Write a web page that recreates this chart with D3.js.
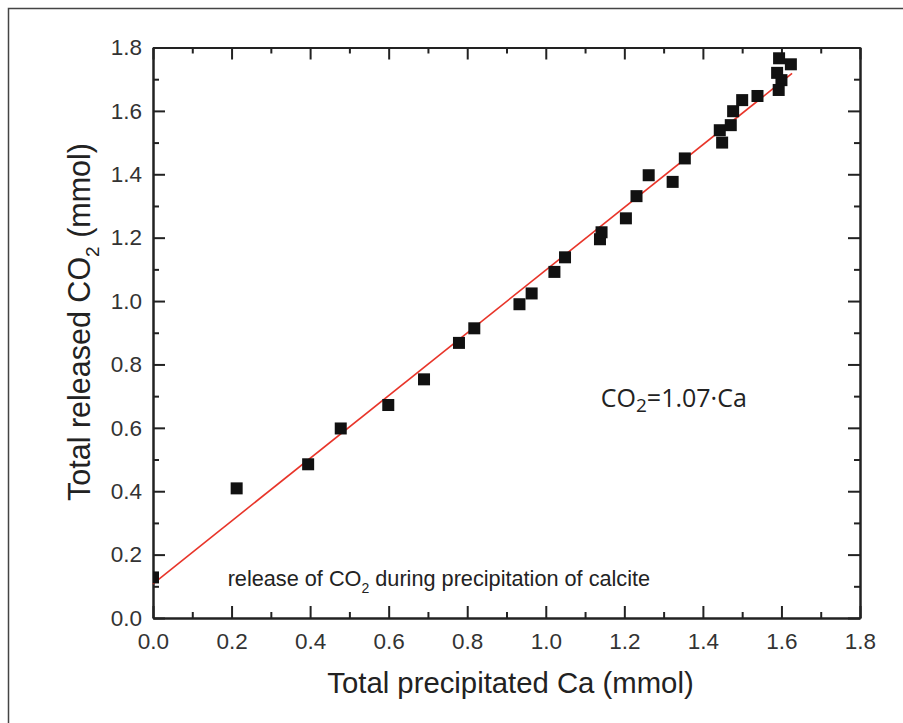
<!DOCTYPE html>
<meta charset="utf-8">
<style>

  body {
    margin: 0;
    background: #fff;
  }

  svg {
    font-family: "Liberation Sans", Arial, sans-serif;
  }

  .axis path,
  .axis line {
    fill: none;
    stroke: #222;
    stroke-width: 2px;
  }

  .axis text {
    font-size: 22.5px;
    fill: #333;
  }

  .dot {
    fill: #111;
  }

  .fit {
    fill: none;
    stroke: #e8352a;
    stroke-width: 1.6px;
  }

</style>
<body>
<script src="https://cdn.jsdelivr.net/npm/d3@7"></script>
<script>

  // Measured points: precipitated Ca vs released CO2 (mmol).
  var caValues = [0.0, 0.213, 0.395, 0.478, 0.599, 0.690, 0.779, 0.818, 0.933, 0.964,
    1.022, 1.049, 1.138, 1.142, 1.204, 1.231, 1.262, 1.323, 1.354, 1.443,
    1.449, 1.471, 1.477, 1.500, 1.539, 1.589, 1.594, 1.600, 1.593, 1.624];
  var co2Values = [0.128, 0.409, 0.485, 0.598, 0.672, 0.753, 0.868, 0.914, 0.990, 1.024,
    1.092, 1.138, 1.195, 1.217, 1.261, 1.331, 1.397, 1.376, 1.450, 1.539,
    1.500, 1.555, 1.599, 1.634, 1.647, 1.720, 1.766, 1.697, 1.666, 1.747];

  // Red fit line end points.
  var fitCa = [0.0, 1.627];
  var fitCo2 = [0.108, 1.718];

  var xTicks = [0.0, 0.2, 0.4, 0.6, 0.8, 1.0, 1.2, 1.4, 1.6, 1.8];
  var yTicks = [0.0, 0.2, 0.4, 0.6, 0.8, 1.0, 1.2, 1.4, 1.6, 1.8];
  var minorTicks = [0.1, 0.3, 0.5, 0.7, 0.9, 1.1, 1.3, 1.5, 1.7];

  var margin = {top: 47.5, right: 43, bottom: 105, left: 153};
  var width = 903 - margin.left - margin.right;
  var height = 723 - margin.top - margin.bottom;

  var x = d3.scaleLinear()
    .domain([0, 1.8])
    .range([0, width]);

  var y = d3.scaleLinear()
    .domain([0, 1.8])
    .range([height, 0]);

  var root = d3.select("body").append("svg")
    .attr("width", 903)
    .attr("height", 723);

  // Outer picture border.
  root.append("rect")
    .attr("x", 8.5)
    .attr("y", 8.5)
    .attr("width", 1000)
    .attr("height", 1000)
    .attr("fill", "none")
    .attr("stroke", "#444")
    .attr("stroke-width", 1.5);

  var svg = root.append("g")
    .attr("transform", "translate(" + margin.left + "," + margin.top + ")");

  svg.append("clipPath")
    .attr("id", "plot-clip")
    .append("rect")
    .attr("width", width)
    .attr("height", height);

  var fmt = d3.format(".1f");

  // Minor ticks first, then major ones with labels.
  function addAxis(axis, major, minor, transform, labels) {
    var g = svg.append("g")
      .attr("class", "axis")
      .attr("transform", transform);
    g.call(axis.scale(major.scale).tickValues(minor).tickSize(-6).tickSizeOuter(0).tickFormat(""));
    var g2 = svg.append("g")
      .attr("class", "axis")
      .attr("transform", transform);
    g2.call(axis.scale(major.scale).tickValues(major.values).tickSize(-12).tickSizeOuter(0)
      .tickPadding(labels ? major.pad : 0)
      .tickFormat(labels ? fmt : ""));
  }

  addAxis(d3.axisBottom(), {scale: x, values: xTicks, pad: 15}, minorTicks,
    "translate(0," + height + ")", true);
  addAxis(d3.axisLeft(), {scale: y, values: yTicks, pad: 11}, minorTicks,
    "translate(0,0)", true);
  addAxis(d3.axisTop(), {scale: x, values: xTicks}, minorTicks,
    "translate(0,0)", false);
  addAxis(d3.axisRight(), {scale: y, values: yTicks}, minorTicks,
    "translate(" + width + ",0)", false);

  // Fit line.
  svg.append("path")
    .datum(d3.zip(fitCa, fitCo2))
    .attr("class", "fit")
    .attr("d", d3.line()
      .x(function(d) { return x(d[0]); })
      .y(function(d) { return y(d[1]); }));

  // Square markers.
  var size = 12;
  svg.append("g")
    .attr("clip-path", "url(#plot-clip)")
    .selectAll(".dot")
    .data(d3.zip(caValues, co2Values))
    .enter().append("rect")
    .attr("class", "dot")
    .attr("x", function(d) { return x(d[0]) - size / 2; })
    .attr("y", function(d) { return y(d[1]) - size / 2; })
    .attr("width", size)
    .attr("height", size);

  // Axis titles.
  svg.append("text")
    .attr("x", width / 2 + 4)
    .attr("y", height + 75)
    .attr("text-anchor", "middle")
    .attr("font-size", 29.3)
    .attr("fill", "#222")
    .text("Total precipitated Ca (mmol)");

  var yTitle = svg.append("text")
    .attr("transform", "translate(-63,274.5) rotate(-90)")
    .attr("text-anchor", "middle")
    .attr("font-size", 30.5)
    .attr("fill", "#222");
  yTitle.append("tspan").text("Total released CO");
  yTitle.append("tspan").attr("font-size", 19).attr("dy", 9).text("2");
  yTitle.append("tspan").attr("dy", -9).text(" (mmol)");

  // Annotations.
  var eq = svg.append("text")
    .attr("x", x(1.14))
    .attr("y", y(0.665))
    .attr("font-family", "'Open Sans', sans-serif")
    .attr("font-size", 25)
    .attr("fill", "#222");
  eq.append("tspan").text("CO");
  eq.append("tspan").attr("font-size", 19).attr("dy", 5).text("2");
  eq.append("tspan").attr("dy", -5).text("=1.07\u00b7Ca");

  var note = svg.append("text")
    .attr("x", x(0.19))
    .attr("y", y(0.1))
    .attr("font-size", 21.7)
    .attr("fill", "#222");
  note.append("tspan").text("release of CO");
  note.append("tspan").attr("font-size", 14).attr("dy", 7).text("2");
  note.append("tspan").attr("dy", -7).text(" during precipitation of calcite");

</script>
